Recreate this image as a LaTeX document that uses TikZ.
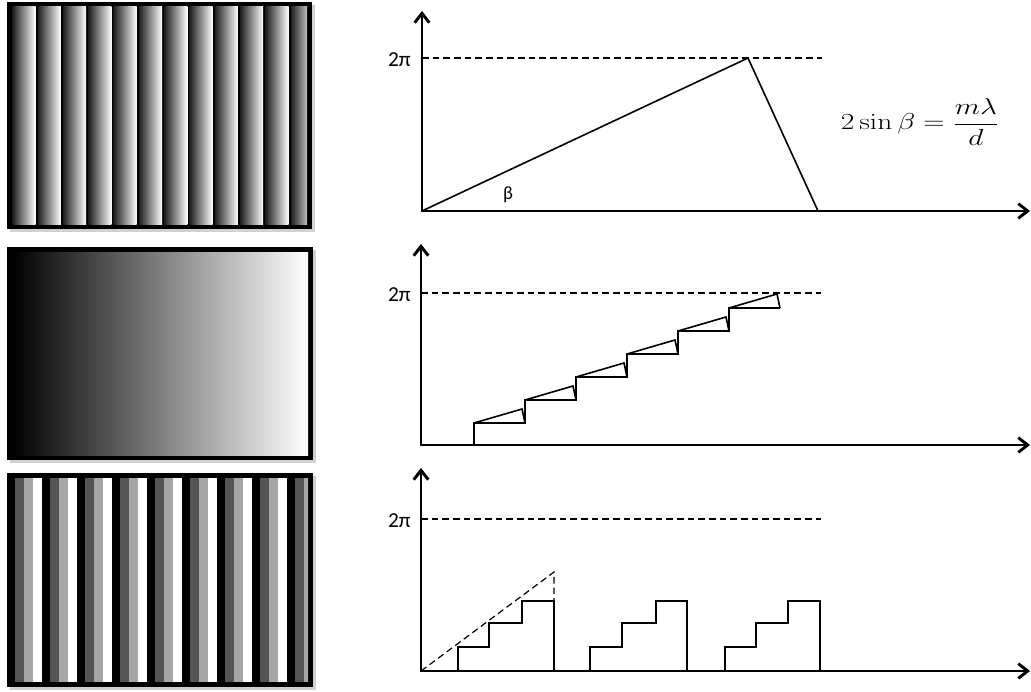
\documentclass[tikz,border=0pt]{standalone}
\usepackage[no-math]{fontspec}
\newfontfamily\carl{Carlito}
\usetikzlibrary{arrows.meta}
\begin{document}
\begin{tikzpicture}[x=0.75pt,y=-0.75pt,
  axis/.style={line width=2.2pt,-{Straight Barb[length=7pt,width=11pt]}},
  thin line/.style={line width=1.2pt,line join=miter},
  refline/.style={line width=0.9pt,dash pattern=on 5pt off 3pt},
  lab/.style={font=\carl\fontsize{16}{19}\selectfont,inner sep=0pt},
  panelshadow/.style={fill=black!18},
  panelframe/.style={fill=black}]
\useasboundingbox (0,0) rectangle (1031,692);

% ---------- left panels ----------
% top: blazed grating
\fill[panelshadow] (10,5) rectangle (315,232);
\fill[panelframe] (7,2) rectangle (312,229);
\begin{scope}
  \clip (12.5,7) rectangle (307,224);
  \foreach \k in {0,...,11}
    \shade[left color=black!88,right color=white]
      ({12.5+25.3*\k},7) rectangle ({12.5+25.3*\k+23},224);
\end{scope}

% middle: linear ramp
\fill[panelshadow] (10,250) rectangle (316,463);
\fill[panelframe] (7,247) rectangle (313,460);
\shade[left color=black,right color=white] (12.7,252) rectangle (308,455);

% bottom: 4-level grating
\fill[panelshadow] (10,476) rectangle (316,690);
\fill[panelframe] (7,473) rectangle (313,687);
\begin{scope}
  \clip (12.3,478) rectangle (308,682);
  \foreach \k in {0,...,8}{
    \fill[black!67] ({15+35*\k},478) rectangle ({24.3+35*\k},682);
    \fill[black!35] ({24.3+35*\k},478) rectangle ({33.3+35*\k},682);
    \fill[white]    ({33.3+35*\k},478) rectangle ({42.3+35*\k},682);
  }
\end{scope}

% ---------- top graph ----------
\coordinate (o1) at (422,211);
\coordinate (y1) at (422,11);
\coordinate (x1) at (1030,211);
\coordinate (p1) at (748,58);
\coordinate (q1) at (818,211);
\coordinate (d1) at (822,58);
\draw[refline] (422,58) -- (d1);
\draw[thin line] (o1) -- (p1) -- (q1);
\draw[axis] (o1) -- (y1);
\draw[axis] ([xshift=-1.1pt]o1) -- (x1);
\node[lab,anchor=east] (pi1) at (411,60) {2π};
\node[lab,font=\carl\fontsize{14}{17}\selectfont] (beta) at (508,195) {β};
\node[font=\fontsize{19}{23}\selectfont,inner sep=0pt,xscale=1.28,transform shape] (eq) at (920,122)
  {$\displaystyle 2\sin\beta=\frac{m\lambda}{d}$};

% ---------- middle graph ----------
\coordinate (o2) at (421,445);
\coordinate (y2) at (421,244);
\coordinate (x2) at (1030,445);
\draw[refline] (421,293) -- (821,293);
\draw[thin line] (474,445) -- (474,423)
  \foreach \i in {0,...,4}{
    -- ({474+51*\i},{423-23*\i}) -- ({474+51*(\i+1)},{423-23*\i})
    -- ({474+51*(\i+1)},{423-23*(\i+1)})
  } -- (780,308);
\foreach \i in {0,...,5}
  \draw[thin line] ({474+51*\i},{423-23*\i}) -- ({474+51*\i+48},{423-23*\i-14})
    -- ({474+51*\i+51},{423-23*\i});
\draw[axis] (o2) -- (y2);
\draw[axis] ([xshift=-1.1pt]o2) -- (x2);
\node[lab,anchor=east] (pi2) at (411,295) {2π};

% ---------- bottom graph ----------
\coordinate (o3) at (421,671);
\coordinate (y3) at (421,468);
\coordinate (x3) at (1030,671);
\coordinate (t3) at (554,572);
\draw[refline] (421,519) -- (821,519);
\draw[refline] (o3) -- (t3) -- (554,601);
\foreach \a/\b/\c/\d in {458/489/522/554, 590/622/656/687, 725/756/788/820}
  \draw[thin line] (\a,671) -- (\a,647) -- (\b,647) -- (\b,623) -- (\c,623)
    -- (\c,601) -- (\d,601) -- (\d,671);
\draw[axis] (o3) -- (y3);
\draw[axis] ([xshift=-1.1pt]o3) -- (x3);
\node[lab,anchor=east] (pi3) at (411,521) {2π};
\end{tikzpicture}
\end{document}
